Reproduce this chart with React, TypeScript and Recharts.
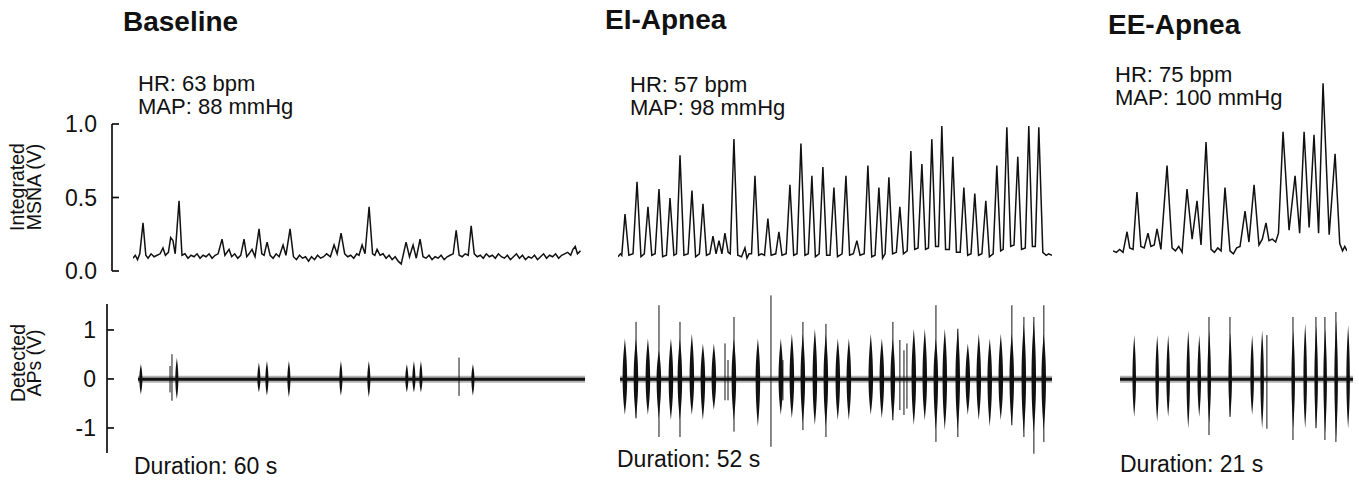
import React from "react";
import { Bar, ComposedChart, Line, LineChart, ReferenceLine, XAxis, YAxis } from "recharts";

const FONT = '"Liberation Sans", Arial, Helvetica, sans-serif';
const INK = "#111";

// ---- integrated MSNA traces, [time (s), volts] ----
const baselineMsna: [number, number][] = [
  [0, 0.09], [0.3, 0.11], [0.6, 0.08], [0.9, 0.12], [1.33, 0.33], [1.7, 0.11], [2.0, 0.09], [2.4, 0.12],
  [2.8, 0.1], [3.2, 0.11], [3.6, 0.12], [3.98, 0.16], [4.3, 0.11], [4.7, 0.13], [5.0, 0.23], [5.3, 0.21],
  [5.6, 0.12], [6.11, 0.48], [6.5, 0.11], [6.9, 0.12], [7.3, 0.09], [7.7, 0.11], [8.1, 0.1], [8.5, 0.12],
  [8.9, 0.09], [9.3, 0.11], [9.7, 0.1], [10.1, 0.12], [10.5, 0.09], [10.9, 0.11], [11.3, 0.12], [11.82, 0.22],
  [12.2, 0.11], [12.75, 0.15], [13.1, 0.1], [13.5, 0.12], [13.9, 0.09], [14.3, 0.11], [14.74, 0.22], [15.1, 0.1],
  [15.4, 0.12], [15.8, 0.15], [16.2, 0.1], [16.73, 0.29], [17.1, 0.12], [17.4, 0.11], [17.8, 0.2], [18.2, 0.11],
  [18.6, 0.09], [19.0, 0.12], [19.4, 0.1], [19.92, 0.18], [20.3, 0.11], [20.85, 0.29], [21.3, 0.1], [21.7, 0.08],
  [22.1, 0.11], [22.5, 0.09], [22.9, 0.1], [23.3, 0.07], [23.7, 0.1], [24.1, 0.08], [24.5, 0.11], [24.9, 0.09],
  [25.3, 0.1], [25.7, 0.12], [26.2, 0.1], [26.69, 0.18], [27.1, 0.12], [27.62, 0.26], [28.1, 0.12], [28.5, 0.1],
  [28.9, 0.11], [29.3, 0.09], [29.7, 0.12], [30.0, 0.11], [30.41, 0.18], [30.8, 0.12], [31.34, 0.44], [31.8, 0.12],
  [32.1, 0.11], [32.4, 0.15], [32.8, 0.11], [33.2, 0.12], [33.6, 0.09], [34.0, 0.11], [34.4, 0.08], [34.8, 0.1],
  [35.2, 0.07], [35.6, 0.05], [36.25, 0.2], [36.7, 0.1], [37.18, 0.18], [37.6, 0.09], [38.11, 0.22], [38.5, 0.1],
  [38.9, 0.09], [39.3, 0.11], [39.7, 0.08], [40.1, 0.1], [40.5, 0.09], [40.9, 0.11], [41.3, 0.08], [41.7, 0.1],
  [42.1, 0.11], [42.5, 0.12], [42.9, 0.28], [43.3, 0.11], [43.7, 0.1], [44.1, 0.12], [44.5, 0.11], [44.89, 0.31],
  [45.3, 0.12], [45.7, 0.1], [46.1, 0.11], [46.5, 0.09], [46.9, 0.12], [47.3, 0.1], [47.7, 0.11], [48.1, 0.09],
  [48.5, 0.12], [48.9, 0.1], [49.3, 0.09], [49.7, 0.11], [50.1, 0.08], [50.5, 0.1], [50.9, 0.12], [51.3, 0.09],
  [51.7, 0.11], [52.1, 0.08], [52.5, 0.1], [52.9, 0.09], [53.3, 0.11], [53.7, 0.08], [54.1, 0.1], [54.5, 0.12],
  [54.9, 0.09], [55.3, 0.11], [55.7, 0.1], [56.1, 0.12], [56.5, 0.09], [56.9, 0.11], [57.3, 0.12], [57.7, 0.13],
  [58.1, 0.11], [58.4, 0.15], [58.7, 0.17], [59.0, 0.12], [59.4, 0.14],
];

const eiMsna: [number, number][] = [
  [0, 0.1], [0.3, 0.12], [0.45, 0.11], [0.84, 0.39], [1.3, 0.11], [1.8, 0.12], [2.28, 0.61], [2.75, 0.1],
  [3.15, 0.12], [3.59, 0.44], [4.05, 0.11], [4.45, 0.12], [4.91, 0.56], [5.35, 0.1], [5.8, 0.11], [6.23, 0.5],
  [6.7, 0.11], [7.0, 0.12], [7.43, 0.79], [7.9, 0.11], [8.4, 0.12], [8.86, 0.55], [9.3, 0.1], [9.75, 0.12],
  [10.18, 0.46], [10.6, 0.11], [11.0, 0.12], [11.38, 0.24], [11.75, 0.12], [12.1, 0.21], [12.45, 0.12], [12.81, 0.26],
  [13.2, 0.13], [13.45, 0.12], [13.89, 0.9], [14.35, 0.11], [14.8, 0.1], [15.21, 0.16], [15.45, 0.09], [15.7, 0.12],
  [16.0, 0.12], [16.41, 0.65], [16.85, 0.11], [17.2, 0.12], [17.55, 0.11], [17.96, 0.36], [18.35, 0.11], [18.9, 0.12],
  [19.28, 0.27], [19.65, 0.11], [20.15, 0.12], [20.6, 0.59], [21.05, 0.11], [21.45, 0.12], [21.92, 0.87], [22.4, 0.11],
  [22.8, 0.12], [23.23, 0.65], [23.65, 0.1], [24.1, 0.12], [24.55, 0.71], [25.0, 0.11], [25.4, 0.11], [25.87, 0.57],
  [26.3, 0.1], [26.85, 0.12], [27.31, 0.65], [27.75, 0.11], [28.2, 0.12], [28.62, 0.21], [29.0, 0.11], [29.5, 0.12],
  [29.94, 0.72], [30.4, 0.1], [30.8, 0.11], [31.26, 0.57], [31.7, 0.09], [32.0, 0.12], [32.46, 0.64], [32.9, 0.12],
  [33.35, 0.13], [33.77, 0.44], [34.2, 0.12], [34.65, 0.14], [35.09, 0.82], [35.55, 0.15], [35.95, 0.16], [36.41, 0.73],
  [36.85, 0.15], [37.2, 0.16], [37.6, 0.9], [38.05, 0.17], [38.4, 0.17], [38.8, 0.99], [39.25, 0.15], [39.7, 0.15],
  [40.12, 0.78], [40.55, 0.13], [41.0, 0.13], [41.44, 0.57], [41.9, 0.11], [42.3, 0.12], [42.75, 0.53], [43.2, 0.11],
  [43.6, 0.12], [44.07, 0.48], [44.5, 0.1], [44.95, 0.12], [45.39, 0.72], [45.85, 0.14], [46.15, 0.15], [46.59, 0.98],
  [47.05, 0.17], [47.45, 0.18], [47.9, 0.78], [48.35, 0.15], [48.8, 0.16], [49.22, 0.99], [49.65, 0.17], [50.0, 0.17],
  [50.42, 0.98], [50.9, 0.13], [51.3, 0.11], [51.6, 0.12], [52.0, 0.11],
];

const eeMsna: [number, number][] = [
  [0, 0.14], [0.3, 0.13], [0.6, 0.15], [0.9, 0.13], [1.26, 0.27], [1.5, 0.16], [1.8, 0.15], [2.15, 0.54],
  [2.5, 0.17], [2.8, 0.16], [3.14, 0.26], [3.4, 0.17], [3.7, 0.18], [3.95, 0.29], [4.3, 0.15], [4.85, 0.72],
  [5.3, 0.16], [5.6, 0.14], [5.9, 0.17], [6.2, 0.13], [6.64, 0.56], [7.1, 0.22], [7.54, 0.48], [7.9, 0.18],
  [8.35, 0.88], [8.8, 0.15], [9.1, 0.13], [9.4, 0.16], [9.7, 0.14], [10.05, 0.57], [10.5, 0.14], [10.8, 0.12],
  [11.1, 0.16], [11.4, 0.17], [11.85, 0.41], [12.2, 0.2], [12.66, 0.59], [13.1, 0.18], [13.4, 0.22], [13.73, 0.33],
  [14.0, 0.21], [14.3, 0.22], [14.6, 0.2], [14.85, 0.26], [15.26, 0.95], [15.8, 0.28], [16.34, 0.65], [16.75, 0.26],
  [17.15, 0.95], [17.6, 0.3], [18.04, 0.93], [18.45, 0.26], [18.85, 1.28], [19.4, 0.25], [19.93, 0.8], [20.35, 0.19],
  [20.6, 0.14], [20.8, 0.17], [21.0, 0.14],
];

// ---- detected action potentials: burst times (s), upper / lower excursion (V) ----
const baselineBurstT = [0.4, 5.23, 16.24, 17.32, 20.27, 27.25, 31.0, 36.1, 37.05, 37.99, 44.97];
const baselineBurstHi = [0.31, 0.44, 0.34, 0.37, 0.37, 0.37, 0.37, 0.31, 0.37, 0.37, 0.31];
const baselineBurstLo = [-0.31, -0.41, -0.27, -0.34, -0.37, -0.34, -0.37, -0.27, -0.27, -0.27, -0.34];
const baselineSpikeT = [4.3, 4.56, 43.09];
const baselineSpikeHi = [0.27, 0.51, 0.44];
const baselineSpikeLo = [-0.27, -0.44, -0.34];

const eiBurstT = [
  0.6, 1.93, 3.37, 4.69, 6.14, 7.22, 8.66, 9.99, 11.31, 13.72, 16.61, 19.37, 20.7, 22.02, 23.47, 24.79, 26.23,
  27.56, 30.2, 31.53, 32.85, 35.38, 36.7, 38.03, 39.11, 40.67, 41.88, 43.2, 44.52, 45.85, 47.17, 48.62, 49.82, 51.02,
];
const eiBurstHi = [
  0.83, 0.83, 0.83, 0.59, 0.83, 0.83, 0.93, 0.73, 0.73, 0.83, 0.83, 0.83, 0.93, 0.93, 1.03, 0.93, 0.83,
  0.83, 0.93, 0.83, 0.83, 1.03, 1.03, 0.83, 1.03, 1.03, 0.73, 0.93, 0.83, 0.93, 0.93, 1.13, 1.2, 0.93,
];
const eiBurstLo = [
  -0.73, -0.8, -0.73, -0.8, -0.84, -0.84, -0.73, -0.84, -0.63, -0.84, -0.97, -0.73, -0.8, -0.9, -0.94, -0.97, -0.84,
  -0.84, -0.73, -0.8, -0.84, -0.94, -0.84, -1.04, -1.04, -1.04, -0.73, -0.84, -0.97, -0.84, -0.94, -1.1, -1.1, -1.04,
];
const eiSpikeT = [1.93, 4.69, 7.22, 12.64, 13.0, 13.72, 18.17, 19.61, 22.02, 24.79, 32.85, 33.69, 34.18, 34.54, 38.03, 40.67, 47.17, 48.62, 49.82, 51.02];
const eiSpikeHi = [1.17, 1.51, 1.17, 0.73, 0.39, 1.27, 1.71, 0.39, 1.17, 1.13, 1.17, 0.8, 0.59, 0.73, 1.51, 1.03, 1.51, 1.27, 1.27, 1.51];
const eiSpikeLo = [-0.8, -1.18, -1.18, -0.43, -0.43, -1.07, -1.38, -0.43, -1.04, -1.18, -0.84, -0.63, -0.73, -0.6, -1.28, -1.18, -0.94, -1.18, -1.52, -1.28];

const eeBurstT = [1.26, 3.33, 4.32, 6.13, 7.12, 8.02, 9.91, 11.89, 12.79, 15.59, 16.67, 17.66, 18.47, 19.46, 20.54];
const eeBurstHi = [0.9, 0.9, 0.9, 1.0, 0.9, 1.0, 0.95, 0.9, 1.0, 1.0, 1.14, 1.1, 1.03, 1.2, 1.1];
const eeBurstLo = [-0.77, -0.87, -0.77, -1.01, -0.77, -0.9, -0.77, -0.73, -1.01, -1.0, -1.01, -1.0, -1.1, -1.2, -1.01];
const eeSpikeT = [8.02, 9.91, 13.24, 15.59, 17.66, 18.47, 19.46];
const eeSpikeHi = [1.27, 1.27, 0.9, 1.27, 1.27, 1.27, 1.37];
const eeSpikeLo = [-1.14, -0.77, -1.01, -1.24, -1.0, -1.24, -1.28];

// ---- axes ----
const msnaTicks = [0, 0.5, 1];
const msnaTickLabels = ["0.0", "0.5", "1.0"];
const apTicks = [-1, 0, 1];
const apTickLabels = ["-1", "0", "1"];

// vertical layout (px)
const MSNA_PX = 147;
const MSNA_ZERO = 271;
const MSNA_DOMAIN: [number, number] = [-0.05, 1.35];
const AP_PX = 49;
const AP_ZERO = 379;
const AP_DOMAIN: [number, number] = [-1.6, 1.8];

const NO_MARGIN = { top: 0, right: 0, bottom: 0, left: 0 };

function MsnaTrace({ data, duration, left, width }: { data: [number, number][]; duration: number; left: number; width: number }) {
  const height = (MSNA_DOMAIN[1] - MSNA_DOMAIN[0]) * MSNA_PX;
  const top = MSNA_ZERO - MSNA_DOMAIN[1] * MSNA_PX;
  return (
    <div style={{ position: "absolute", left, top }}>
      <LineChart width={width} height={height} data={data.map(([t, v]) => ({ t, v }))} margin={NO_MARGIN}>
        <XAxis type="number" dataKey="t" domain={[0, duration]} hide />
        <YAxis type="number" domain={MSNA_DOMAIN} hide />
        <Line type="linear" dataKey="v" stroke={INK} strokeWidth={1.5} dot={false} isAnimationActive={false} />
      </LineChart>
    </div>
  );
}

function Spindle(props: any) {
  const { x, y, width, height, payload, w } = props;
  if (!payload || height == null || !isFinite(y)) return null;
  const [lo, hi] = payload.range;
  const cx = x + width / 2;
  const y0 = y + height * (hi / (hi - lo));
  const yb = y + height;
  const hw = w / 2;
  const up = y0 - y;
  const dn = yb - y0;
  const d =
    `M${cx},${y} C${cx + hw * 0.5},${y + up * 0.3} ${cx + hw},${y0 - up * 0.45} ${cx + hw},${y0} ` +
    `C${cx + hw},${y0 + dn * 0.45} ${cx + hw * 0.5},${yb - dn * 0.3} ${cx},${yb} ` +
    `C${cx - hw * 0.5},${yb - dn * 0.3} ${cx - hw},${y0 + dn * 0.45} ${cx - hw},${y0} ` +
    `C${cx - hw},${y0 - up * 0.45} ${cx - hw * 0.5},${y + up * 0.3} ${cx},${y} Z`;
  return <path d={d} fill={INK} />;
}

function ApTrace({
  burstT, burstHi, burstLo, spikeT, spikeHi, spikeLo, duration, left, width, spindle,
}: {
  burstT: number[]; burstHi: number[]; burstLo: number[];
  spikeT: number[]; spikeHi: number[]; spikeLo: number[];
  duration: number; left: number; width: number; spindle: number;
}) {
  const height = (AP_DOMAIN[1] - AP_DOMAIN[0]) * AP_PX;
  const top = AP_ZERO - AP_DOMAIN[1] * AP_PX;
  const bursts = burstT.map((t, i) => ({ t, range: [burstLo[i], burstHi[i]] }));
  const spikes = spikeT.flatMap((t, i) => [
    { t, v: spikeLo[i] },
    { t, v: spikeHi[i] },
    { t, v: null },
  ]);
  return (
    <div style={{ position: "absolute", left, top }}>
      <ComposedChart width={width} height={height} data={bursts} margin={NO_MARGIN}>
        <XAxis type="number" dataKey="t" domain={[0, duration]} hide />
        <YAxis type="number" domain={AP_DOMAIN} hide />
        <ReferenceLine y={0} stroke="#000" strokeOpacity={0.3} strokeWidth={7} />
        <ReferenceLine y={0} stroke={INK} strokeWidth={3} />
        <Bar
          dataKey="range"
          barSize={spindle}
          shape={(p: any) => <Spindle {...p} w={spindle} />}
          isAnimationActive={false}
        />
        <Line
          data={spikes}
          dataKey="v"
          type="linear"
          stroke={INK}
          strokeWidth={1}
          dot={false}
          connectNulls={false}
          isAnimationActive={false}
        />
      </ComposedChart>
    </div>
  );
}

function AxisTick({ x, y, payload, gap, ticks, labels }: any) {
  const label = labels[ticks.indexOf(payload.value)];
  return (
    <g>
      <line x1={x} y1={y} x2={x + 7} y2={y} stroke={INK} strokeWidth={1.7} />
      <text x={x - gap} y={y} dy="0.36em" textAnchor="end" fontSize={23} fontFamily={FONT} fill={INK}>
        {label}
      </text>
    </g>
  );
}

function LeftAxis({
  domain, ticks, labels, axisX, zero, px, gap,
}: {
  domain: [number, number]; ticks: number[]; labels: string[]; axisX: number; zero: number; px: number; gap: number;
}) {
  const pad = 16;
  const plotH = (domain[1] - domain[0]) * px;
  const top = zero - domain[1] * px - pad;
  return (
    <div style={{ position: "absolute", left: 0, top }}>
      <LineChart width={axisX + 12} height={plotH + pad * 2} data={[{ t: 0, v: 0 }]} margin={{ top: pad, right: 12, bottom: pad, left: 0 }}>
        <XAxis type="number" dataKey="t" domain={[0, 1]} hide />
        <YAxis
          type="number"
          domain={domain}
          ticks={ticks}
          interval={0}
          width={axisX}
          axisLine={{ stroke: INK, strokeWidth: 1.7 }}
          tickLine={false}
          tickSize={0}
          tickMargin={0}
          tick={(p: any) => <AxisTick {...p} gap={gap} ticks={ticks} labels={labels} />}
        />
        <Line dataKey="v" stroke="none" dot={false} isAnimationActive={false} />
      </LineChart>
    </div>
  );
}

const textStyle = { fontFamily: FONT, fill: INK } as const;

export default function App() {
  return (
    <div
      style={{
        position: "absolute",
        left: 0,
        top: 0,
        width: 1359,
        height: 481,
        background: "#fff",
        overflow: "hidden",
      }}
    >
      <LeftAxis domain={[0, 1]} ticks={msnaTicks} labels={msnaTickLabels} axisX={112} zero={MSNA_ZERO} px={MSNA_PX} gap={15} />
      <LeftAxis domain={[-1.51, 1.53]} ticks={apTicks} labels={apTickLabels} axisX={107} zero={AP_ZERO} px={AP_PX} gap={11} />

      <MsnaTrace data={baselineMsna} duration={60} left={133} width={452} />
      <MsnaTrace data={eiMsna} duration={52} left={618} width={434} />
      <MsnaTrace data={eeMsna} duration={21} left={1113} width={234} />

      <ApTrace
        burstT={baselineBurstT} burstHi={baselineBurstHi} burstLo={baselineBurstLo}
        spikeT={baselineSpikeT} spikeHi={baselineSpikeHi} spikeLo={baselineSpikeLo}
        duration={60} left={138} width={447} spindle={3}
      />
      <ApTrace
        burstT={eiBurstT} burstHi={eiBurstHi} burstLo={eiBurstLo}
        spikeT={eiSpikeT} spikeHi={eiSpikeHi} spikeLo={eiSpikeLo}
        duration={52} left={620} width={432} spindle={4.5}
      />
      <ApTrace
        burstT={eeBurstT} burstHi={eeBurstHi} burstLo={eeBurstLo}
        spikeT={eeSpikeT} spikeHi={eeSpikeHi} spikeLo={eeSpikeLo}
        duration={21} left={1120} width={233} spindle={3.5}
      />

      <svg width={1359} height={481} style={{ position: "absolute", left: 0, top: 0, pointerEvents: "none" }}>
        <g {...textStyle} fontSize={28} fontWeight="bold">
          <text x={123} y={31}>Baseline</text>
          <text x={605} y={29}>EI-Apnea</text>
          <text x={1108} y={34}>EE-Apnea</text>
        </g>
        <g {...textStyle} fontSize={22}>
          <text x={138} y={91}>HR: 63 bpm</text>
          <text x={138} y={114}>MAP: 88 mmHg</text>
          <text x={630} y={92}>HR: 57 bpm</text>
          <text x={630} y={115}>MAP: 98 mmHg</text>
          <text x={1115} y={82}>HR: 75 bpm</text>
          <text x={1115} y={105}>MAP: 100 mmHg</text>
        </g>
        <g {...textStyle} fontSize={23}>
          <text x={134} y={474}>Duration: 60 s</text>
          <text x={617} y={467}>Duration: 52 s</text>
          <text x={1120} y={472}>Duration: 21 s</text>
        </g>
        <g {...textStyle} fontSize={19.5} textAnchor="middle">
          <text transform="translate(24,187) rotate(-90)">Integrated</text>
          <text transform="translate(41,187) rotate(-90)">MSNA (V)</text>
          <text transform="translate(25,363) rotate(-90)">Detected</text>
          <text transform="translate(41,363) rotate(-90)">APs (V)</text>
        </g>
      </svg>
    </div>
  );
}
